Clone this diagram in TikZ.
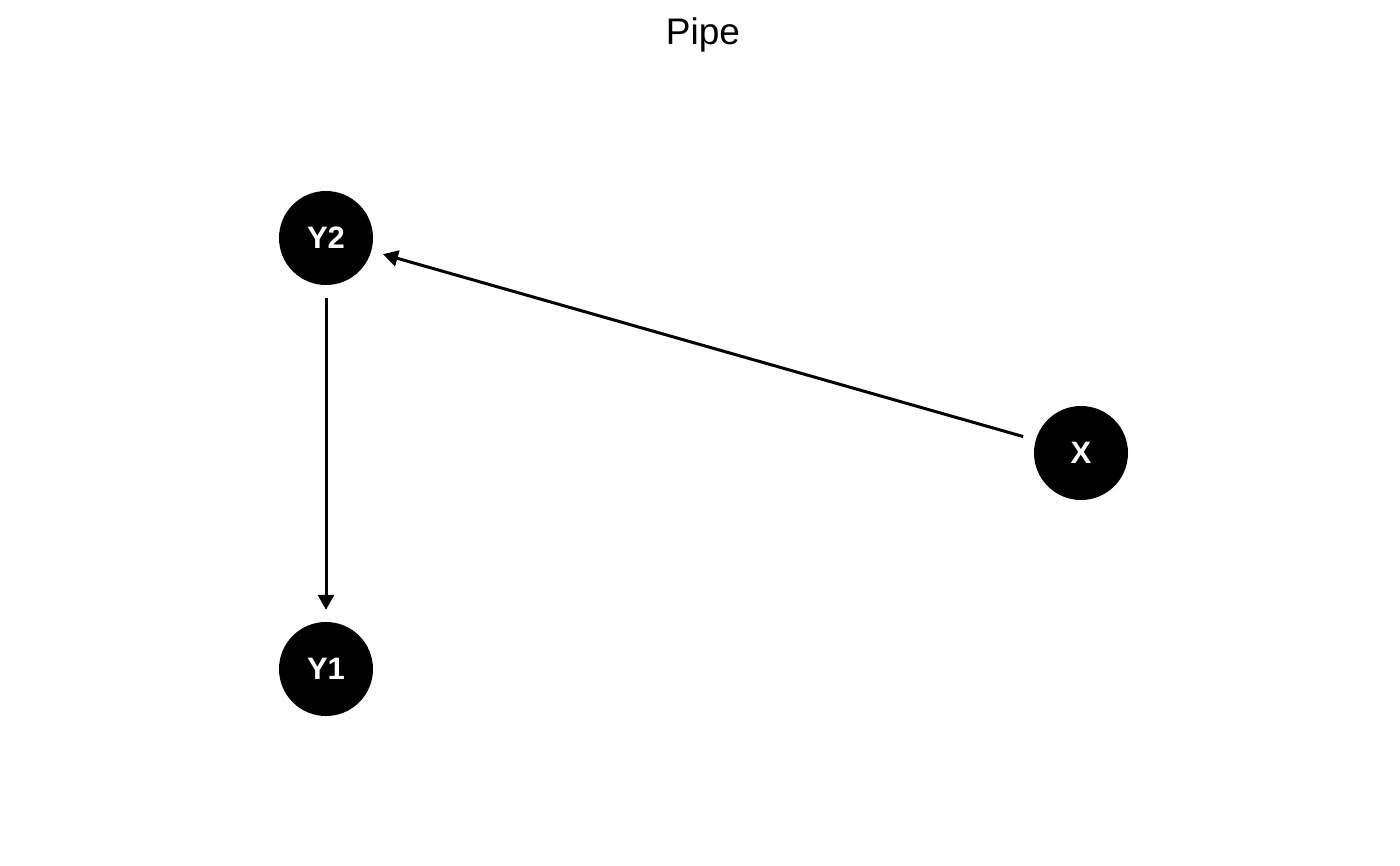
\documentclass[tikz,border=0pt]{standalone}
\usepackage{fontspec}
\setmainfont{Liberation Sans}
\usetikzlibrary{arrows.meta}
\begin{document}
\begin{tikzpicture}[x=1pt,y=-1pt,
  dagnode/.style={circle,fill=black,minimum size=94pt,inner sep=0pt,text=white,font=\fontsize{31}{36}\selectfont\bfseries},
  edge/.style={line width=3pt,-{Triangle[length=15pt,width=16pt]},shorten >=12pt,shorten <=13pt}]
\useasboundingbox (0,0) rectangle (1400,865);
\node[font=\fontsize{37}{42}\selectfont] (title) at (703,35) {Pipe};
\node[dagnode] (Y2) at (326,238) {Y2};
\node[dagnode] (Y1) at (326,669) {Y1};
\node[dagnode] (X) at (1081,453) {X};
\draw[edge] (Y2) -- (Y1);
\draw[edge] (X) -- (Y2);
\end{tikzpicture}
\end{document}
